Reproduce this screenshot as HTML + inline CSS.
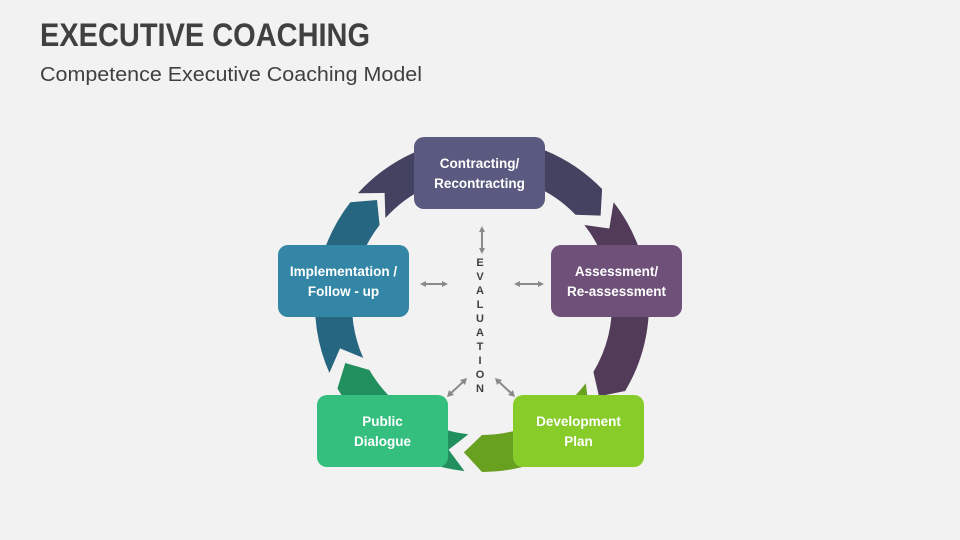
<!DOCTYPE html>
<html><head><meta charset="utf-8"><style>
html,body{margin:0;padding:0;background:#f2f2f2;}
svg{display:block;}
</style></head><body>
<svg id="s" width="960" height="540" viewBox="0 0 960 540" xmlns="http://www.w3.org/2000/svg" font-family="Liberation Sans, sans-serif">
<rect width="960" height="540" fill="#f2f2f2"/>
<text x="40" y="46" font-size="32" font-weight="bold" fill="#404040" textLength="330" lengthAdjust="spacingAndGlyphs">EXECUTIVE COACHING</text>
<text x="40" y="81" font-size="20" fill="#404040" textLength="382" lengthAdjust="spacingAndGlyphs">Competence Executive Coaching Model</text>
<g id="ring"></g>
<g fill="none" stroke="#8a8a8a" stroke-width="2">
<line x1="482" y1="230" x2="482" y2="250"/>
<line x1="424" y1="284" x2="444" y2="284"/>
<line x1="518" y1="284" x2="540" y2="284"/>
<line x1="450" y1="394" x2="464" y2="381"/>
<line x1="498" y1="381" x2="512" y2="394"/>
</g>
<g fill="#8a8a8a">
<path d="M482 226 l-3 6 h6z M482 254 l-3 -6 h6z"/>
<path d="M420 284 l6 -3 v6z M448 284 l-6 -3 v6z"/>
<path d="M514 284 l6 -3 v6z M544 284 l-6 -3 v6z"/>
<path d="M447 397 l2 -7 l5 5z M467 378 l-2 7 l-5 -5z"/>
<path d="M495 378 l2 7 l5 -5z M515 397 l-2 -7 l-5 5z"/>
</g>
<g font-size="11" font-weight="bold" fill="#404040" text-anchor="middle">
<text x="480" y="266">E</text><text x="480" y="280">V</text><text x="480" y="294">A</text><text x="480" y="308">L</text><text x="480" y="322">U</text><text x="480" y="336">A</text><text x="480" y="350">T</text><text x="480" y="364">I</text><text x="480" y="378">O</text><text x="480" y="392">N</text>
</g>
<g font-size="13.5" font-weight="bold" fill="#fff" text-anchor="middle">
<rect x="414" y="137" width="131" height="72" rx="10" fill="#5a5a80"/>
<text x="479.5" y="168">Contracting/</text><text x="479.5" y="188">Recontracting</text>
<rect x="551" y="245" width="131" height="72" rx="10" fill="#6e5078"/>
<text x="616.5" y="276">Assessment/</text><text x="616.5" y="296">Re-assessment</text>
<rect x="278" y="245" width="131" height="72" rx="10" fill="#3386a5"/>
<text x="343.5" y="276">Implementation /</text><text x="343.5" y="296">Follow - up</text>
<rect x="317" y="395" width="131" height="72" rx="10" fill="#35bf7f"/>
<text x="382.5" y="426">Public</text><text x="382.5" y="446">Dialogue</text>
<rect x="513" y="395" width="131" height="72" rx="10" fill="#88cc2a"/>
<text x="578.5" y="426">Development</text><text x="578.5" y="446">Plan</text>
</g>
</svg>
<script>
(function(){
var cx=482,cy=305,R=167,r=130,m=(R+r)/2,d=7;
function p(a,rad){a=a*Math.PI/180;return (cx+rad*Math.cos(a)).toFixed(1)+' '+(cy+rad*Math.sin(a)).toFixed(1);}
var segs=[[222,316,'#434260'],[322,391,'#523b58'],[37,90,'#68a020'],[96,150,'#22905e'],[156,218,'#276680']];
var g=document.getElementById('ring'),h='';
segs.forEach(function(s){var a0=s[0],a1=s[1];
h+='<path fill="'+s[2]+'" d="M'+p(a0,R)+' A'+R+' '+R+' 0 0 1 '+p(a1,R)+' L'+p(a1+d,m)+' L'+p(a1,r)+' A'+r+' '+r+' 0 0 0 '+p(a0,r)+' L'+p(a0+d,m)+' Z"/>';});
g.innerHTML=h;
})();
</script>
</body></html>
